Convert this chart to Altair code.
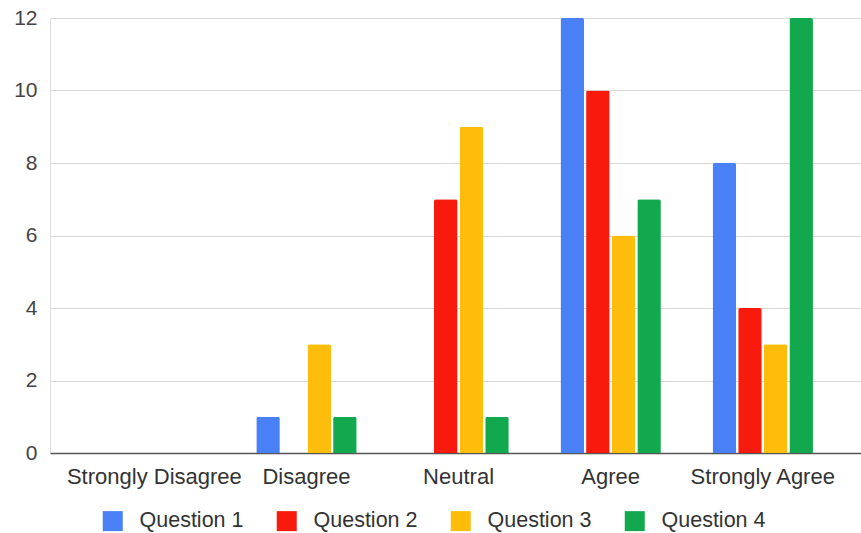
import altair as alt
import pandas as pd

categories = ["Strongly Disagree", "Disagree", "Neutral", "Agree", "Strongly Agree"]
series = ["Question 1", "Question 2", "Question 3", "Question 4"]
q1 = [0, 1, 0, 12, 8]
q2 = [0, 0, 7, 10, 4]
q3 = [0, 3, 9, 6, 3]
q4 = [0, 1, 1, 7, 12]
colors = ["#4a80f5", "#f81a0c", "#fdbd0a", "#12a94e"]
y_ticks = [0, 2, 4, 6, 8, 10, 12]

rows = []
for s, vals in zip(series, [q1, q2, q3, q4]):
    for c, v in zip(categories, vals):
        rows.append({"Response": c, "Series": s, "Count": v})
df = pd.DataFrame(rows)

FONT = "Liberation Sans"

chart = alt.Chart(df).mark_bar(
    cornerRadiusTopLeft=2, cornerRadiusTopRight=2
).encode(
    x=alt.X(
        "Response:N",
        sort=categories,
        scale=alt.Scale(paddingInner=0.34, paddingOuter=0.336, align=0.53),
        axis=alt.Axis(
            title=None, labelAngle=0, ticks=False, grid=False,
            domainColor="#555555", domainWidth=1.5,
            labelPadding=13, labelFontSize=22, labelColor="#333333",
            labelFont=FONT,
        ),
    ),
    xOffset=alt.XOffset(
        "Series:N", sort=series,
        scale=alt.Scale(paddingInner=0.08, paddingOuter=0),
    ),
    y=alt.Y(
        "Count:Q",
        scale=alt.Scale(domain=[0, 12], nice=False),
        axis=alt.Axis(
            title=None, values=y_ticks, ticks=False, domain=False,
            gridColor="#d9d9d9", gridWidth=1,
            labelPadding=13, labelFontSize=21, labelColor="#444444",
            labelFont=FONT,
        ),
    ),
    color=alt.Color(
        "Series:N",
        sort=series,
        scale=alt.Scale(domain=series, range=colors),
        legend=alt.Legend(
            title=None, orient="none", legendX=52, legendY=492,
            direction="horizontal", symbolType="square", symbolSize=400,
            symbolStrokeWidth=0, symbolOpacity=1,
            labelFontSize=21.5, labelFont=FONT, labelColor="#333333",
            labelOffset=16, columnPadding=32, padding=0,
        ),
    ),
).properties(
    width=811, height=435,
    autosize=alt.AutoSizeParams(type="none"),
    padding={"left": 50, "top": 18, "right": 0, "bottom": 80},
).configure_view(stroke=None).configure(background="white")

chart.save("out.html", embed_options={"renderer": "svg", "actions": False})
